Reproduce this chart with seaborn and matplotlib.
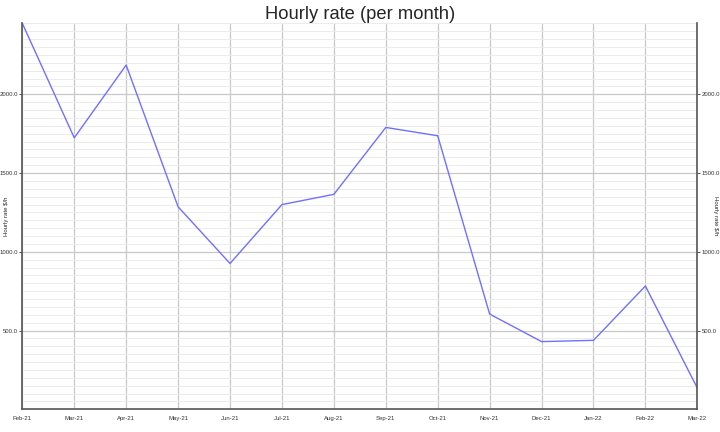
import matplotlib
matplotlib.use("Agg")
import matplotlib.pyplot as plt
from matplotlib.ticker import MultipleLocator, FixedLocator
import seaborn as sns
import pandas as pd

months = ["Feb-21", "Mar-21", "Apr-21", "May-21", "Jun-21", "Jul-21", "Aug-21",
          "Sep-21", "Oct-21", "Nov-21", "Dec-21", "Jan-22", "Feb-22", "Mar-22"]
rate = [2451, 1724, 2186, 1286, 926, 1300, 1365, 1790, 1737, 605, 430, 438, 783, 135]
yticks = [500, 1000, 1500, 2000]

sns.set_style("white")
plt.rcParams['font.family'] = ['Liberation Sans', 'DejaVu Sans']

df = pd.DataFrame({"month": months, "rate": rate, "pos": range(len(months))})

fig = plt.figure(figsize=(7.2, 4.32), dpi=100)
ax = fig.add_axes([0.031, 0.0525, 0.9375, 0.8935])

sns.lineplot(data=df, x="pos", y="rate", ax=ax, color="#7070ff", linewidth=1.0)

ax.set_xlim(0, len(months) - 1)
ax.set_ylim(0, max(rate))
ax.set_xticks(range(len(months)))
ax.set_xticklabels(months)
ax.yaxis.set_major_locator(FixedLocator(yticks))
ax.yaxis.set_minor_locator(MultipleLocator(50))
ax.set_yticklabels([f"{v:.1f}" for v in yticks])

ax.grid(which="major", axis="both", color="#c8c8c8", linewidth=0.9)
ax.grid(which="minor", axis="y", color="#ececec", linewidth=0.7)
ax.set_axisbelow(True)

for s in ["left", "right", "bottom"]:
    ax.spines[s].set_color("#555555")
    ax.spines[s].set_linewidth(1.2)
ax.spines["top"].set_visible(False)

ax.tick_params(axis="both", which="major", labelsize=4.3, length=2, width=0.6,
               direction="out", colors="#333333", pad=1)
ax.tick_params(axis="x", which="major", pad=3)
ax.tick_params(axis="y", which="minor", length=0)
ax.tick_params(axis="y", which="both", left=True, right=True,
               labelleft=True, labelright=True)

ax.set_xlabel("")
ax.set_ylabel("Hourly rate $/h", fontsize=4.3)
ax.yaxis.set_label_coords(-0.019, 0.5)

fig.text(0.994, 0.5, "Hourly rate $/h", fontsize=4.3, rotation=270,
         ha="center", va="center", color="#262626")

ax.set_title("Hourly rate (per month)", fontsize=13.2, pad=3)

fig.savefig("out.png", dpi=100)
